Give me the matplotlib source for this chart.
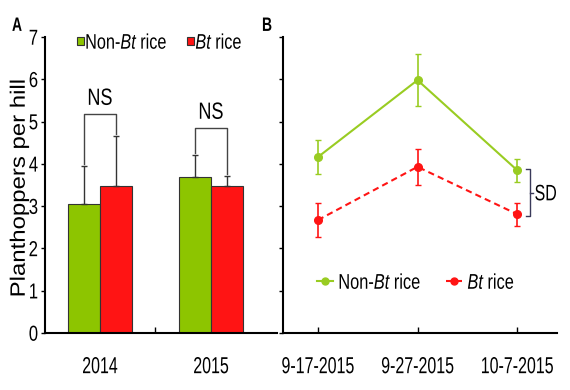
import matplotlib
matplotlib.use("Agg")
import matplotlib.pyplot as plt
from matplotlib.patheffects import AbstractPathEffect
from matplotlib.transforms import Affine2D
from matplotlib.lines import Line2D
import numpy as np

# ---- data ----
years = ["2014", "2015"]
bar_nonbt = [3.05, 3.69]
bar_nonbt_err = [0.90, 0.52]
bar_bt = [3.48, 3.48]
bar_bt_err = [1.18, 0.23]
ns_top = [5.18, 4.85]

dates = ["9-17-2015", "9-27-2015", "10-7-2015"]
line_nonbt = [4.16, 5.98, 3.85]
line_nonbt_err = [0.40, 0.61, 0.27]
line_bt = [2.67, 3.93, 2.81]
line_bt_err = [0.41, 0.43, 0.27]

GREEN = "#8dc500"
RED = "#ff1414"
GLINE = "#99cc22"
FONT = ["Liberation Sans", "DejaVu Sans"]

plt.rcParams["font.family"] = FONT
plt.rcParams["mathtext.fontset"] = "custom"
plt.rcParams["mathtext.rm"] = "Liberation Sans"
plt.rcParams["mathtext.it"] = "Liberation Sans:italic"


class Stretch(AbstractPathEffect):
    """Stretch glyphs about their own centre (reference text is condensed)."""
    def __init__(self, sx=1.0, sy=1.0):
        super().__init__()
        self.sx, self.sy = sx, sy

    def draw_path(self, renderer, gc, tpath, affine, rgbFace=None):
        ext = tpath.get_extents()
        cx, cy = (ext.x0 + ext.x1) / 2, (ext.y0 + ext.y1) / 2
        t = Affine2D().translate(-cx, -cy).scale(self.sx, self.sy).translate(cx, cy)
        renderer.draw_path(gc, tpath, t + affine, rgbFace)


def stretch(texts, sx=1.0, sy=1.35):
    for t in texts:
        t.set_path_effects([Stretch(sx, sy)])


fig = plt.figure(figsize=(5.7, 3.9), dpi=100)
axA = fig.add_axes([45/570, 1-333/390, 232/570, 296/390])
axB = fig.add_axes([283/570, 1-333/390, 274/570, 296/390])

for ax in (axA, axB):
    for s in ("top", "right"):
        ax.spines[s].set_visible(False)
    for s in ("left", "bottom"):
        ax.spines[s].set_linewidth(1.5)
    ax.set_ylim(0, 7)
    ax.set_yticks(range(8))
    ax.tick_params(axis="y", direction="out", length=3, width=1, labelsize=12, pad=2)
    ax.tick_params(axis="x", labelsize=11.5, pad=18.5)

# ---- Panel A ----
x = np.arange(len(years))
w = 0.288
ekw = dict(ecolor="#333333", elinewidth=1, capsize=2, capthick=1)
axA.bar(x - w/2, bar_nonbt, w, color=GREEN, edgecolor="#333333", linewidth=0.8,
        label="Non-$\\mathit{Bt}$ rice")
axA.bar(x + w/2, bar_bt, w, color=RED, edgecolor="#333333", linewidth=0.8,
        label="$\\mathit{Bt}$ rice")
axA.errorbar(x - w/2, bar_nonbt, yerr=[np.zeros(2), bar_nonbt_err], fmt="none", **ekw)
axA.errorbar(x + w/2, bar_bt, yerr=[np.zeros(2), bar_bt_err], fmt="none", **ekw)
ns_texts = []
for i in range(len(years)):
    top = ns_top[i]
    l0 = bar_nonbt[i] + bar_nonbt_err[i] + 0.05
    r0 = bar_bt[i] + bar_bt_err[i] + 0.05
    axA.plot([x[i]-w/2, x[i]-w/2, x[i]+w/2, x[i]+w/2], [l0, top, top, r0],
             color="#444444", lw=1)
    ns_texts.append(axA.text(x[i], top + 0.26, "NS", ha="center", va="baseline",
                             fontsize=13))
stretch(ns_texts, 1.0, 1.3)
axA.set_xlim(-0.495, 1.595)
axA.set_xticks(x)
axA.set_xticklabels(years)
axA.tick_params(axis="x", which="major", length=0)
axA.set_xticks([0.5], minor=True)
axA.tick_params(axis="x", which="minor", direction="in", length=4, width=1)
ylab = axA.set_ylabel("Planthoppers per hill", fontsize=15)
axA.yaxis.set_label_coords(-0.07, 0.49)
stretch([ylab], 1.15, 1.0)
legA = axA.legend(loc="center left", bbox_to_anchor=(0.138, 0.983), ncol=2, frameon=False,
                  handlelength=0.4, handleheight=0.4, handletextpad=0.1, columnspacing=1.2,
                  fontsize=11.7, borderaxespad=0, borderpad=0)
stretch(legA.get_texts(), 1.0, 1.3)

# ---- Panel B ----
xb = np.arange(len(dates))
axB.plot(xb, line_nonbt, color=GLINE, marker="o", ms=5.5, lw=1.5)
axB.errorbar(xb, line_nonbt, yerr=line_nonbt_err, fmt="none", ecolor=GLINE,
             capsize=2.5, elinewidth=1.2)
axB.plot(xb, line_bt, color=RED, marker="o", ms=5.5, lw=1.5, ls=(0, (3, 2)))
axB.errorbar(xb, line_bt, yerr=line_bt_err, fmt="none", ecolor=RED,
             capsize=2.5, elinewidth=1.2)
sx = 2.13
ylo, yhi = line_bt[2] - 0.04, line_nonbt[2] + 0.02
ymid = (ylo + yhi) / 2
axB.plot([sx-0.04, sx, sx, sx-0.04], [yhi, yhi, ylo, ylo], color="#3a3a5a", lw=1)
axB.plot([sx, sx+0.03], [ymid, ymid], color="#3a3a5a", lw=1)
sd = axB.text(sx + 0.045, ymid - 0.13, "SD", ha="left", va="baseline", fontsize=11.5)
stretch([sd], 1.0, 1.4)
axB.set_xlim(-0.35, 2.4)
axB.set_xticks(xb)
axB.set_xticklabels(dates)
axB.tick_params(axis="x", direction="in", length=4, width=1)
axB.set_yticklabels([])
handles = [Line2D([], [], color=GLINE, marker="o", ms=5, lw=1.5),
           Line2D([], [], color=RED, marker="o", ms=5, lw=1.5, ls=(0, (3, 2)))]
legB = axB.legend(handles, ["Non-$\\mathit{Bt}$ rice", "$\\mathit{Bt}$ rice"],
                  loc="center left", bbox_to_anchor=(0.124, 0.172), ncol=2, frameon=False,
                  handlelength=1.0, handletextpad=0.3, columnspacing=1.5, fontsize=11.8,
                  borderaxespad=0, borderpad=0)
stretch(legB.get_texts(), 1.0, 1.3)

for ax in (axA, axB):
    stretch(ax.get_xticklabels(), 1.0, 1.45)
    stretch(ax.get_yticklabels(), 1.0, 1.3)

labA = fig.text(17/570, 1-29/390, "A", fontsize=10, fontweight="bold", va="baseline",
                ha="center")
labB = fig.text(267/570, 1-29/390, "B", fontsize=10, fontweight="bold", va="baseline",
                ha="center")
stretch([labA, labB], 1.0, 1.4)

fig.savefig("out.png", dpi=100)
